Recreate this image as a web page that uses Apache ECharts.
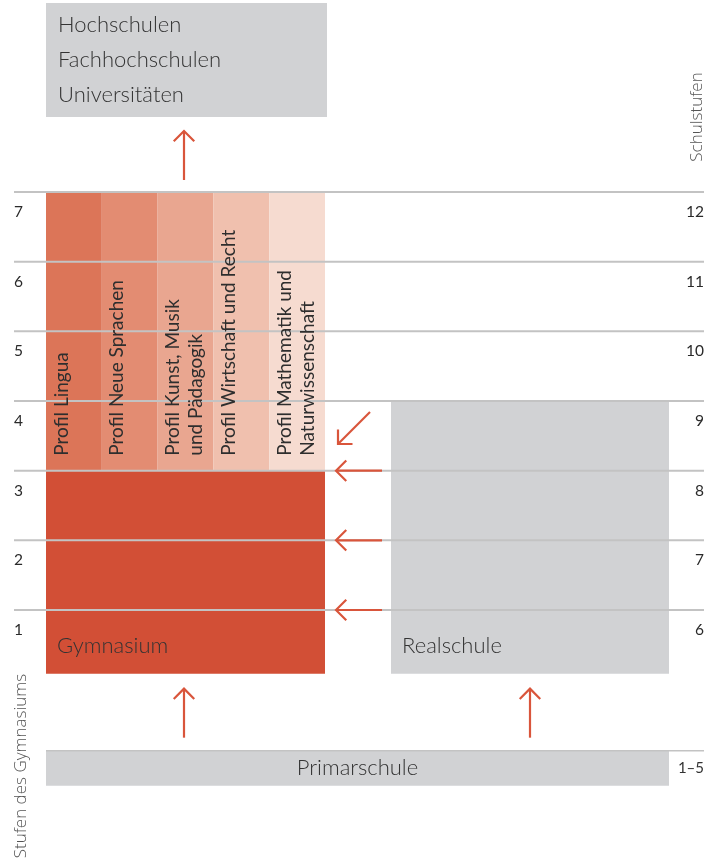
<!DOCTYPE html>
<html><head><meta charset="utf-8">
<script src="https://cdn.jsdelivr.net/npm/echarts@6/dist/echarts.min.js"></script>
<style>html,body{margin:0;padding:0;background:#fff}#c{width:712px;height:860px}</style>
</head><body><div id="c"></div>
<script>
// ---------------- data ----------------
const gymnasiumLevels = ['1', '2', '3', '4', '5', '6', '7'];
const schoolGradeLabels = ['6', '7', '8', '9', '10', '11', '12'];
const schoolGrades = [6, 7, 8, 9, 10, 11, 12];
const primaryGradeLabel = '1–5';
const stageNames = ['Gymnasium', 'Realschule'];
const stageFirstGrade = [6, 6];
const stageLastGrade = [8, 9];
const profileNames = [
  'Profil Lingua',
  'Profil Neue Sprachen',
  'Profil Kunst, Musik\nund Pädagogik',
  'Profil Wirtschaft und Recht',
  'Profil Mathematik und\nNaturwissenschaft'
];
const profileFirstGrade = 9;
const profileLastGrade = 12;
const higherEducation = ['Hochschulen', 'Fachhochschulen', 'Universitäten'];
const primaryName = 'Primarschule';
const primaryLastGrade = 5;
const transferGrades = [8, 7, 6];      // Realschule -> Gymnasium (horizontal arrows)
const profileTransferGrade = 9;        // Realschule -> Profil (diagonal arrow)
const axisTitles = ['Schulstufen', 'Stufen des Gymnasiums'];

// ---------------- layout & style ----------------
const X = { gym: [46, 325], real: [391, 669], prim: [46, 669], line: [14, 704], primLine: [46, 704] };
const C = {
  gym: '#d24f36',
  profiles: ['#dc7558', '#e38c72', '#e9a690', '#f0c0ae', '#f6dbd0'],
  gray: '#d1d2d4', line: '#c3c3c3', arrow: '#d9553b', text: '#333333'
};
const FONT = 'Lato, "Open Sans", sans-serif';
const FONT2 = '"Open Sans", Lato, sans-serif';

function arrowShapes(x1, y1, x2, y2) {
  const a = Math.atan2(y2 - y1, x2 - x1), len = 14.5;
  const p1 = [x2 - len * Math.cos(a - Math.PI / 4), y2 - len * Math.sin(a - Math.PI / 4)];
  const p2 = [x2 - len * Math.cos(a + Math.PI / 4), y2 - len * Math.sin(a + Math.PI / 4)];
  const st = { stroke: C.arrow, lineWidth: 2.2, fill: null };
  return [
    { type: 'line', shape: { x1: x1, y1: y1, x2: x2, y2: y2 }, style: st },
    { type: 'polyline', shape: { points: [p1, [x2, y2], p2] }, style: st }
  ];
}

const chart = echarts.init(document.getElementById('c'), null, { renderer: 'canvas' });

const option = {
  animation: false,
  backgroundColor: '#ffffff',
  grid: { left: 0, right: 0, top: 52.67, bottom: 41 },
  xAxis: { type: 'value', min: 0, max: 712, show: false },
  yAxis: { type: 'value', min: 3, max: 14, show: false },
  series: [
    // Gymnasium / Realschule boxes
    {
      type: 'custom', z: 1, clip: false,
      data: stageNames.map((n, i) => [i, stageFirstGrade[i] - 1, stageLastGrade[i]]),
      renderItem: function (params, api) {
        const i = api.value(0);
        const xr = i === 0 ? X.gym : X.real;
        const top = api.coord([xr[0], api.value(2)]);
        const bot = api.coord([xr[1], api.value(1)]);
        const y1 = bot[1] - 6;
        return {
          type: 'group', children: [
            { type: 'rect', shape: { x: top[0], y: top[1], width: bot[0] - top[0], height: y1 - top[1] },
              style: { fill: i === 0 ? C.gym : C.gray } },
            { type: 'text', x: top[0] + 11, y: y1 - 28,
              style: { text: stageNames[i], fill: C.text, fontFamily: FONT, fontWeight: 300, fontSize: 22,
                align: 'left', verticalAlign: 'middle' } }
          ]
        };
      }
    },
    // Profile columns
    {
      type: 'custom', z: 1, clip: false,
      data: profileNames.map((n, i) => [i, profileFirstGrade - 1, profileLastGrade]),
      renderItem: function (params, api) {
        const i = api.value(0);
        const w = (X.gym[1] - X.gym[0]) / profileNames.length;
        const top = api.coord([X.gym[0] + i * w, api.value(2)]);
        const bot = api.coord([X.gym[0] + (i + 1) * w, api.value(1)]);
        return {
          type: 'rect', shape: { x: top[0], y: top[1], width: bot[0] - top[0], height: bot[1] - top[1] },
          style: { fill: C.profiles[i] }
        };
      }
    },
    // Higher education box
    {
      type: 'custom', z: 1, clip: false,
      data: [[profileLastGrade]],
      renderItem: function (params, api) {
        const p = api.coord([X.gym[0], api.value(0)]);
        const y0 = p[1] - 189, h = 114;
        const kids = [{ type: 'rect', shape: { x: X.gym[0], y: y0, width: 281, height: h }, style: { fill: C.gray } }];
        higherEducation.forEach((t, k) => kids.push({
          type: 'text', x: 58, y: y0 + 22 + k * 35,
          style: { text: t, fill: C.text, fontFamily: FONT, fontWeight: 300, fontSize: 22, align: 'left', verticalAlign: 'middle' }
        }));
        return { type: 'group', children: kids };
      }
    },
    // Primarschule
    {
      type: 'custom', z: 1, clip: false,
      data: [[primaryLastGrade]],
      renderItem: function (params, api) {
        const p = api.coord([X.prim[0], api.value(0)]);
        const y0 = p[1] + 71, h = 35;
        return {
          type: 'group', children: [
            { type: 'rect', shape: { x: X.prim[0], y: y0, width: X.prim[1] - X.prim[0], height: h }, style: { fill: C.gray } },
            { type: 'line', shape: { x1: X.primLine[0], y1: y0, x2: X.primLine[1], y2: y0 }, style: { stroke: C.line, lineWidth: 1.5 } },
            { type: 'text', x: (X.prim[0] + X.prim[1]) / 2, y: y0 + h / 2,
              style: { text: primaryName, fill: C.text, fontFamily: FONT, fontWeight: 300, fontSize: 22, align: 'center', verticalAlign: 'middle' } },
            { type: 'text', x: 704, y: y0 + h / 2,
              style: { text: primaryGradeLabel, fill: C.text, fontFamily: FONT, fontWeight: 400, fontSize: 15, align: 'right', verticalAlign: 'middle' } }
          ]
        };
      }
    },
    // Grid lines at each Schulstufe boundary
    {
      type: 'custom', z: 3, clip: false,
      data: schoolGrades.map(g => [g]),
      renderItem: function (params, api) {
        const a = api.coord([X.line[0], api.value(0)]);
        const b = api.coord([X.line[1], api.value(0)]);
        return { type: 'line', shape: { x1: a[0], y1: a[1], x2: b[0], y2: b[1] }, style: { stroke: C.line, lineWidth: 2 } };
      }
    },
    // Level labels (left: Stufen des Gymnasiums, right: Schulstufen)
    {
      type: 'custom', z: 4, clip: false,
      data: schoolGrades.map((g, i) => [i, g]),
      renderItem: function (params, api) {
        const i = api.value(0);
        const p = api.coord([0, api.value(1)]);
        const st = { fill: '#2a2a2a', fontFamily: FONT, fontWeight: 400, fontSize: 15.5, verticalAlign: 'middle' };
        return {
          type: 'group', children: [
            { type: 'text', x: 14, y: p[1] + 20, style: Object.assign({ text: gymnasiumLevels[i], align: 'left' }, st) },
            { type: 'text', x: 704, y: p[1] + 20, style: Object.assign({ text: schoolGradeLabels[i], align: 'right' }, st) }
          ]
        };
      }
    },
    // Profile labels (rotated)
    {
      type: 'custom', z: 5, clip: false,
      data: profileNames.map((n, i) => [i, profileFirstGrade - 1]),
      renderItem: function (params, api) {
        const i = api.value(0);
        const w = (X.gym[1] - X.gym[0]) / profileNames.length;
        const p = api.coord([X.gym[0] + i * w, api.value(1)]);
        return {
          type: 'text', x: p[0] + 4, y: p[1] - 15, rotation: Math.PI / 2,
          style: { text: profileNames[i], fill: '#2e2e2e', fontFamily: FONT, fontWeight: 400, fontSize: 19, lineHeight: 23,
            align: 'left', verticalAlign: 'top' }
        };
      }
    },
    // Arrows
    {
      type: 'custom', z: 6, clip: false,
      data: [[profileLastGrade, 0], [primaryLastGrade, 1], [primaryLastGrade, 2]]
        .concat(transferGrades.map(g => [g, 3]))
        .concat([[profileTransferGrade, 4]]),
      renderItem: function (params, api) {
        const g = api.value(0), kind = api.value(1);
        const p = api.coord([0, g]);
        const gymC = (X.gym[0] + X.gym[1]) / 2 - 1.5;
        const realC = (X.real[0] + X.real[1]) / 2;
        let ch;
        if (kind === 0) ch = arrowShapes(gymC, p[1] - 12, gymC, p[1] - 61);
        else if (kind === 1) ch = arrowShapes(gymC, p[1] + 58, gymC, p[1] + 9);
        else if (kind === 2) ch = arrowShapes(realC, p[1] + 58, realC, p[1] + 9);
        else if (kind === 3) ch = arrowShapes(382, p[1], 336, p[1]);
        else ch = arrowShapes(370, p[1] + 11, 338, p[1] + 43);
        return { type: 'group', children: ch };
      }
    }
  ],
  graphic: [
    { type: 'text', x: 697, y: 117, rotation: Math.PI / 2, z: 10,
      style: { text: axisTitles[0], fill: '#555', font: '300 17px ' + FONT2, align: 'center', verticalAlign: 'middle' } },
    { type: 'text', x: 21, y: 766, rotation: Math.PI / 2, z: 10,
      style: { text: axisTitles[1], fill: '#555', font: '300 17px ' + FONT2, align: 'center', verticalAlign: 'middle' } }
  ]
};
chart.setOption(option);
</script></body></html>
